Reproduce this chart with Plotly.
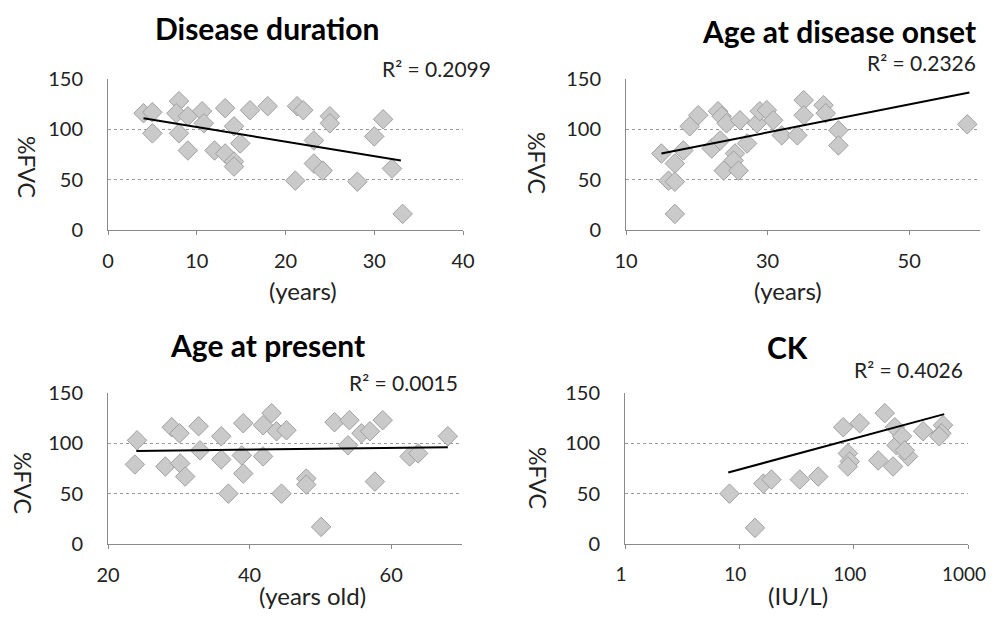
import plotly.graph_objects as go

# ---------------- data ----------------
dd_x = [4, 5, 5, 8, 7.7, 9, 8, 10.6, 10.8, 9, 13.2, 16, 18, 21.3, 22, 25, 25, 14.2, 14.9,
        12, 13.2, 14.2, 14.2, 23.2, 23.2, 24.2, 21.1, 28.1, 31, 30, 32, 33.2]
dd_y = [116, 117, 96, 128, 116, 113, 96, 118, 106, 79, 121, 119, 123, 123, 119, 113, 106, 103, 86,
        79, 76, 68, 63, 89, 66, 59, 49, 48, 110, 93, 61, 16]
dd_trend_x = [4, 33]
dd_trend_y = [111, 69]

on_x = [15, 16.9, 18.1, 16, 16.9, 16.9, 19, 20.2, 22.1, 23, 23.5, 24.2, 23.3, 25.4, 23.8, 25.2,
        25.9, 26.1, 27.1, 28.5, 28.9, 29.9, 30.8, 32, 34.2, 35.1, 35.1, 37.9, 38.2, 40, 40, 58.2]
on_y = [76, 66, 79, 49, 48, 16, 103, 114, 81, 118, 113, 106, 89, 76, 59, 69,
        59, 109, 86, 106, 118, 119, 109, 94, 94, 129, 114, 124, 116, 99, 84, 105]
on_trend_x = [15, 58.5]
on_trend_y = [76, 136.5]

ap_x = [24.1, 23.8, 29, 30.1, 32.8, 33, 28.1, 30.2, 30.9, 36, 36, 37, 38.9, 39.1, 39.1, 41.9,
        43.1, 41.9, 43.8, 45.2, 44.5, 48, 48, 50.1, 52, 54.1, 53.9, 55.8, 57, 58.8, 57.7, 62.6, 63.8, 68]
ap_y = [103, 79, 116, 110, 117, 93, 77, 80, 67, 107, 84, 50, 88, 70, 120, 87,
        130, 118, 112, 113, 50, 65, 59, 17, 121, 123, 98, 110, 112, 123, 62, 87, 90, 107]
ap_trend_x = [24, 68]
ap_trend_y = [92.5, 96]

ck_x = [8.2, 13.7, 16.2, 19.1, 33.8, 49, 81, 113, 89, 92.5, 89, 164, 187, 229, 237, 265, 221,
        299, 280, 405, 605, 585, 560]
ck_y = [50, 16, 60, 64, 64, 67, 116, 120, 90, 82, 77, 83, 130, 116, 98, 107, 77,
        87, 93, 112, 118, 110, 107]
ck_trend_x = [8, 620]
ck_trend_y = [71, 129]

titles = ["Disease duration", "Age at disease onset", "Age at present", "CK"]
r2_labels = ["R² = 0.2099", "R² = 0.2326", "R² = 0.0015", "R² = 0.4026"]
x_titles = ["(years)", "(years)", "(years old)", "(IU/L)"]
y_title = "%FVC"

# ---------------- figure ----------------
OFF = 8  # page body margin
W, H = 997 - 2 * OFF, 617 - 2 * OFF
FONT = "Lato"
fig = go.Figure()

panels = [
    (dd_x, dd_y, dd_trend_x, dd_trend_y),
    (on_x, on_y, on_trend_x, on_trend_y),
    (ap_x, ap_y, ap_trend_x, ap_trend_y),
    (ck_x, ck_y, ck_trend_x, ck_trend_y),
]
# plot-area pixel boxes in window coordinates (left, right, top, bottom)
boxes = [(108, 463, 79, 230), (626, 980, 79, 230), (108, 462, 393, 544), (625, 968, 393, 544)]

def px(x):
    return (x - OFF) / W

def py(y):
    return 1 - (y - OFF) / H

for i, (xs, ys, tx, ty) in enumerate(panels):
    n = "" if i == 0 else str(i + 1)
    fig.add_trace(go.Scatter(x=xs, y=ys, mode="markers", xaxis="x" + n, yaxis="y" + n,
                             marker=dict(symbol="diamond", size=15, color="#cacaca",
                                         line=dict(color="#a0a0a0", width=1)),
                             showlegend=False, hoverinfo="skip", cliponaxis=False))
    fig.add_trace(go.Scatter(x=tx, y=ty, mode="lines", xaxis="x" + n, yaxis="y" + n,
                             line=dict(color="black", width=2), showlegend=False,
                             hoverinfo="skip"))

grid = dict(showgrid=True, gridcolor="#9a9a9a", griddash="dot", gridwidth=1)
tickfont = dict(family=FONT, size=20, color="#222")
xranges = [(0, 40, 10), (10, 60, 20), (20, 70, 20), None]

for i, (l, r, t, b) in enumerate(boxes):
    n = "" if i == 0 else str(i + 1)
    xa = dict(domain=[px(l), px(r)], anchor="y" + n, showline=True, linecolor="#8a8a8a",
              linewidth=1, ticks="outside", ticklen=4, tickcolor="#8a8a8a", showgrid=False,
              zeroline=False, tickfont=tickfont, ticklabelstandoff=9, automargin=False,
              ticklabeloverflow="allow")
    if xranges[i] is not None:
        lo, hi, dt = xranges[i]
        xa.update(range=[lo, hi], tick0=lo, dtick=dt)
    else:
        xa.update(type="log", range=[0, 3], tickvals=[1, 10, 100, 1000],
                  ticktext=["1", "10", "100", "1000"], ticklabelshift=-4,
                  tickfont=dict(family=FONT, size=19, color="#222"))
    ya = dict(domain=[py(b), py(t)], anchor="x" + n, range=[0, 150], dtick=50,
              showline=True, linecolor="#8a8a8a", linewidth=1, ticks="", zeroline=False,
              tickfont=tickfont, ticklabelstandoff=20, automargin=False, **grid)
    fig.layout["xaxis" + n] = xa
    fig.layout["yaxis" + n] = ya

ann = []
# titles
title_pos = [(267, 28, "center"), (978, 31, "right"), (267, 345, "center"), (787, 347, "center")]
for (x, y, al), txt in zip(title_pos, titles):
    ann.append(dict(x=px(x), y=py(y), xref="paper", yref="paper", text="<b>" + txt + "</b>",
                    showarrow=False, xanchor=al, yanchor="middle",
                    font=dict(family=FONT, size=30, color="black")))
# R² labels
r2_pos = [(493, 68), (978, 62), (460, 382), (965, 369)]
for (x, y), txt in zip(r2_pos, r2_labels):
    ann.append(dict(x=px(x), y=py(y), xref="paper", yref="paper", text=txt, showarrow=False,
                    xanchor="right", yanchor="middle",
                    font=dict(family=FONT, size=21, color="#222")))
# x titles
xt_pos = [(303, 290), (788, 290), (312, 595), (798, 595)]
for (x, y), txt in zip(xt_pos, x_titles):
    ann.append(dict(x=px(x), y=py(y), xref="paper", yref="paper", text=txt, showarrow=False,
                    xanchor="center", yanchor="middle",
                    font=dict(family=FONT, size=24, color="#222")))
# y titles
yt_pos = [(27, 167), (537, 163), (23, 483), (538, 478)]
for (x, y) in yt_pos:
    ann.append(dict(x=px(x), y=py(y), xref="paper", yref="paper", text=y_title, showarrow=False,
                    xanchor="center", yanchor="middle", textangle=90,
                    font=dict(family=FONT, size=23, color="#222")))

fig.update_layout(width=W, height=H, margin=dict(l=0, r=0, t=0, b=0),
                  paper_bgcolor="white", plot_bgcolor="white", annotations=ann,
                  font=dict(family=FONT))

fig.write_html("out.html")
